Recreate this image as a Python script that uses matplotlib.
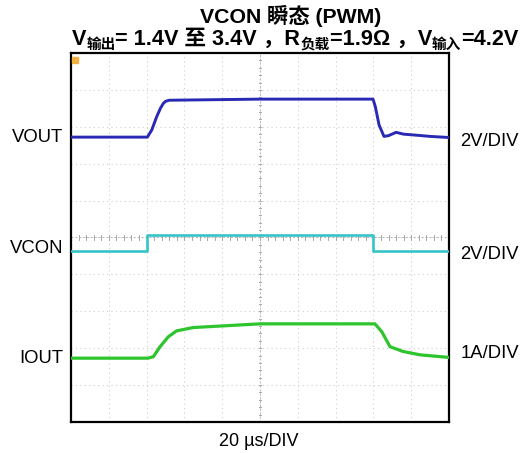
import matplotlib
matplotlib.use("Agg")
import matplotlib.pyplot as plt
import numpy as np

# ---- data (time in µs, amplitude in screen divisions) ----
VOUT_t = [0, 40.4, 42.7, 45.3, 47.5, 48.8, 50.0, 52, 100, 159.8, 161, 163, 165.6, 168, 172, 176, 181, 190, 200]
VOUT_y = [7.72, 7.72, 7.91, 8.27, 8.52, 8.63, 8.69, 8.72, 8.75, 8.75, 8.55, 8.05, 7.74, 7.76, 7.85, 7.80, 7.78, 7.74, 7.71]

VCON_t = [0, 40.2, 40.2, 159.8, 159.8, 200]
VCON_y = [4.63, 4.63, 5.06, 5.06, 4.63, 4.63]

IOUT_t = [0, 40.7, 43.6, 47.1, 51.5, 55.9, 64.7, 82.4, 100, 160.8, 164.4, 168.8, 175.8, 184.7, 200]
IOUT_y = [1.73, 1.73, 1.77, 2.04, 2.31, 2.47, 2.56, 2.61, 2.66, 2.66, 2.45, 2.04, 1.91, 1.82, 1.75]

left_labels = ["VOUT", "VCON", "IOUT"]
right_labels = ["2V/DIV", "2V/DIV", "1A/DIV"]
label_levels = [7.72, 4.7, 1.73]
right_levels = [7.6, 4.55, 1.85]
x_label = "20 µs/DIV"
title1 = "VCON 瞬态 (PWM)"

FAM = ["Liberation Sans", "Noto Sans CJK SC"]
plt.rcParams['font.family'] = FAM

W, H = 523, 453
fig = plt.figure(figsize=(W / 100, H / 100), dpi=100)
ax = fig.add_axes([71 / W, (H - 422) / H, 378 / W, 369 / H])
ax.set_xlim(0, 200)
ax.set_ylim(0, 10)
ax.set_xticks([])
ax.set_yticks([])
for s in ax.spines.values():
    s.set_linewidth(1.6)
    s.set_color("black")

# grid (oscilloscope graticule)
for i in range(1, 10):
    ax.axvline(i * 20, color="#cfcfcf", lw=0.8, ls=(0, (1, 3)), zorder=0)
    ax.axhline(i, color="#cfcfcf", lw=0.8, ls=(0, (1, 3)), zorder=0)
ax.axvline(100, color="#b8b8b8", lw=0.7, ls=(0, (2, 2)), zorder=0)
ax.axhline(5, color="#b8b8b8", lw=0.7, ls=(0, (2, 2)), zorder=0)
for k in range(1, 50):
    xv = k * 4
    ax.plot([xv, xv], [4.93, 5.07], color="#a8a8a8", lw=0.7, zorder=0)
    yv = k * 0.2
    ax.plot([99.3, 100.7], [yv, yv], color="#a8a8a8", lw=0.7, zorder=0)

# traces
ax.plot(IOUT_t, IOUT_y, color="#2ec42e", lw=2.3, zorder=3)
ax.plot(VCON_t, VCON_y, color="#35c4c8", lw=1.9, zorder=3)
ax.plot(VOUT_t, VOUT_y, color="#2929b4", lw=2.1, zorder=3)

# small marker in top-left corner
ax.plot([2.0], [9.8], marker="s", ms=4, color="#f0b040", zorder=4)

# channel labels
for lab, lv in zip(left_labels, label_levels):
    ax.text(-4.0, lv, lab, ha="right", va="center", fontsize=13.3, family=FAM)
for lab, lv in zip(right_labels, right_levels):
    ax.text(5.9 + 200, lv, lab, ha="left", va="center", fontsize=13.3, family=FAM)
fig.text(259 / W, 1 - 442 / H, x_label, ha="center", va="center", fontsize=13, family=FAM)

# title line 1
fig.text(291 / W, 1 - 16 / H, title1, ha="center", va="center", fontsize=15.3,
         fontweight="bold", family=FAM)

# title line 2 with subscripts, built segment by segment
segs = [("V", False), ("输出", True), ("= 1.4V 至 3.4V ，R", False), ("负载", True),
        ("=1.9Ω ，V", False), ("输入", True), ("=4.2V", False)]
renderer = fig.canvas.get_renderer()
base_y = 1 - 45 / H
sub_dy = -4 / H
texts = []
widths = []
for s, sub in segs:
    t = fig.text(0, base_y + (sub_dy if sub else 0), s, ha="left", va="baseline",
                 fontsize=(10.5 if sub else 15.6), fontweight="bold", family=FAM)
    bb = t.get_window_extent(renderer)
    texts.append(t)
    widths.append(bb.width)
total = sum(widths)
x0 = 295 - total / 2
for t, w in zip(texts, widths):
    t.set_x(x0 / W)
    x0 += w

fig.savefig("out.png", dpi=100)
